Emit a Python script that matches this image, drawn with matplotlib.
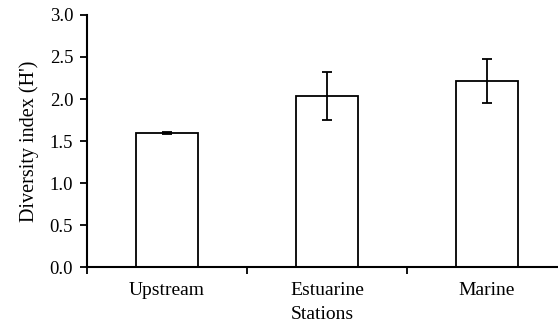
import matplotlib
matplotlib.use('Agg')
import matplotlib.pyplot as plt
import numpy as np

# data
stations = ['Upstream', 'Estuarine', 'Marine']
diversity = [1.595, 2.04, 2.215]
errors = [0.01, 0.285, 0.265]
yticks = [0.0, 0.5, 1.0, 1.5, 2.0, 2.5, 3.0]

plt.rcParams['font.family'] = 'Liberation Serif'

fig = plt.figure(figsize=(5.58, 3.25), dpi=100)
ax = fig.add_axes([0.156, 0.178, 0.844, 0.776])

x = np.arange(len(stations))
ax.bar(x, diversity, width=0.39, color='white', edgecolor='black', linewidth=1.3,
       yerr=errors, error_kw=dict(ecolor='black', elinewidth=1.3, capsize=3.5, capthick=1.3))

ax.set_ylim(0, 3.0)
ax.set_xlim(-0.5, 2.445)
ax.set_yticks(yticks)
ax.set_yticklabels(['%.1f' % t for t in yticks], fontsize=13.5)

# category ticks at boundaries, labels at centres
ax.set_xticks(x - 0.5)
ax.set_xticklabels([])
ax.set_xticks(x, minor=True)
ax.set_xticklabels(stations, minor=True, fontsize=14)
ax.tick_params(axis='x', which='minor', length=0, pad=11)
ax.tick_params(axis='x', which='major', direction='out', length=5, width=1.3)
ax.tick_params(axis='y', direction='out', length=5, width=1.3, pad=5)

ax.spines['top'].set_visible(False)
ax.spines['right'].set_visible(False)
ax.spines['left'].set_linewidth(1.5)
ax.spines['bottom'].set_linewidth(1.5)

ax.set_xlabel('Stations', fontsize=14, labelpad=5)
ax.set_ylabel("Diversity index (H')", fontsize=14.5, labelpad=8)

fig.savefig('out.png', dpi=100)
